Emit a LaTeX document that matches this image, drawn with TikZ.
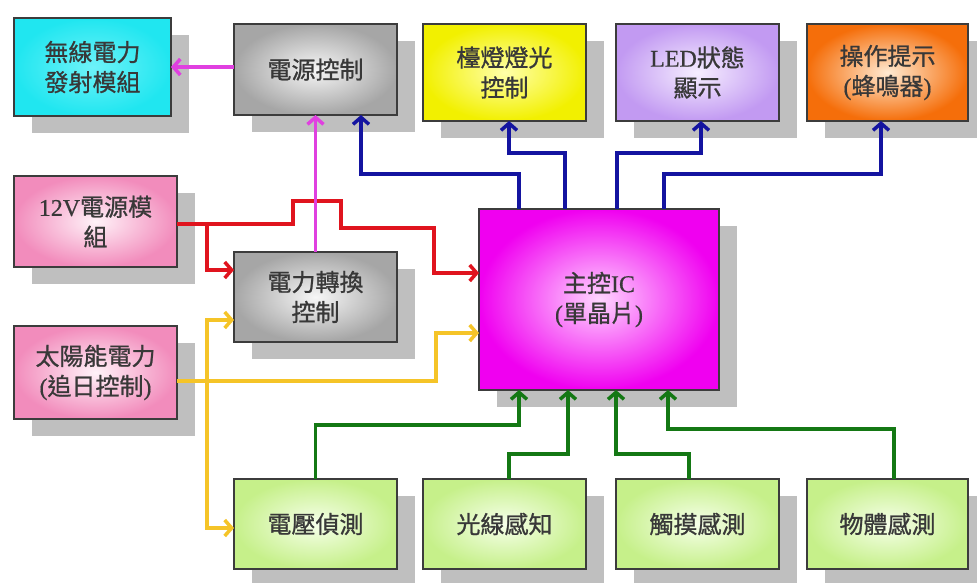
\documentclass[tikz,border=0pt]{standalone}
\usepackage{fontspec}
\setmainfont{Liberation Serif}[FakeBold=0.6]
\newfontfamily\cjk{Noto Sans CJK TC}[FakeBold=0.9]
\usetikzlibrary{arrows.meta,shadows}
\definecolor{shadowcol}{HTML}{BFBFBF}
\definecolor{boxborder}{HTML}{3C3C3C}
\definecolor{textcol}{HTML}{383838}
\definecolor{mgline}{HTML}{E040E0}
\definecolor{blline}{HTML}{1414A0}
\definecolor{rdline}{HTML}{E0141E}
\definecolor{ylline}{HTML}{F5C428}
\definecolor{gnline}{HTML}{147814}
\newcommand{\lt}{\rmfamily}
\begin{document}
\begin{tikzpicture}[x=1pt,y=-1pt,
  box/.style={draw=boxborder, line width=1.4pt, inner sep=0pt, outer sep=0pt,
    align=center, text=textcol, font=\cjk\fontsize{24}{30}\selectfont,
    drop shadow={shadow xshift=18pt,shadow yshift=-17pt,fill=shadowcol,opacity=1}},
  cyanbox/.style={inner color={rgb,255:red,110;green,242;blue,248}, outer color={rgb,255:red,32;green,230;blue,240}},
  graybox/.style={inner color={rgb,255:red,246;green,246;blue,246}, outer color={rgb,255:red,166;green,166;blue,166}},
  yellowbox/.style={inner color={rgb,255:red,255;green,255;blue,170}, outer color={rgb,255:red,242;green,240;blue,0}},
  lavbox/.style={inner color={rgb,255:red,246;green,238;blue,255}, outer color={rgb,255:red,194;green,154;blue,242}},
  orangebox/.style={inner color={rgb,255:red,255;green,234;blue,210}, outer color={rgb,255:red,245;green,110;blue,10}},
  pinkbox/.style={inner color={rgb,255:red,255;green,242;blue,248}, outer color={rgb,255:red,242;green,140;blue,188}},
  icbox/.style={inner color={rgb,255:red,255;green,214;blue,255}, outer color={rgb,255:red,240;green,0;blue,240}},
  greenbox/.style={inner color={rgb,255:red,246;green,255;blue,234}, outer color={rgb,255:red,198;green,240;blue,138}},
  conn/.style={line width=3.5pt, -{Straight Barb[length=7pt,width=16pt]}},
  mg/.style={conn, draw=mgline},
  bl/.style={conn, draw=blline},
  rd/.style={conn, draw=rdline},
  yl/.style={conn, draw=ylline},
  gn/.style={conn, draw=gnline}
]
\useasboundingbox (0,0) rectangle (977,582);
\fill[white] (0,0) rectangle (977,582);

% boxes
\node[box,cyanbox,minimum width=157pt,minimum height=98pt] (wl) at (92.5,67) {無線電力\\發射模組};
\node[box,graybox,minimum width=163pt,minimum height=91pt] (pwr) at (315.5,69.5) {電源控制};
\node[box,yellowbox,minimum width=163pt,minimum height=97pt] (lamp) at (504.5,72.5) {檯燈燈光\\控制};
\node[box,lavbox,minimum width=163pt,minimum height=97pt] (led) at (697.5,72.5) {{\lt LED}狀態\\顯示};
\node[box,orangebox,minimum width=161pt,minimum height=97pt] (buzz) at (887.5,72.5) {操作提示\\{\lt(}蜂鳴器{\lt)}};
\node[box,pinkbox,minimum width=163pt,minimum height=91pt] (v12) at (95.5,221.5) {{\lt 12V}電源模\\組};
\node[box,graybox,minimum width=163pt,minimum height=90pt] (conv) at (315.5,297) {電力轉換\\控制};
\node[box,pinkbox,minimum width=163pt,minimum height=93pt] (solar) at (95.5,372.5) {太陽能電力\\{\lt(}追日控制{\lt)}};
\node[box,icbox,minimum width=240pt,minimum height=181pt] (ic) at (599,299.5) {主控{\lt IC}\\{\lt(}單晶片{\lt)}};
\node[box,greenbox,minimum width=163pt,minimum height=90pt] (volt) at (315.5,524) {電壓偵測};
\node[box,greenbox,minimum width=163pt,minimum height=90pt] (light) at (504.5,524) {光線感知};
\node[box,greenbox,minimum width=163pt,minimum height=90pt] (touch) at (697.5,524) {觸摸感測};
\node[box,greenbox,minimum width=161pt,minimum height=90pt] (obj) at (887.5,524) {物體感測};

% red
\draw[rd] (v12.east |- 0,224) -- (293,224) -- (293,201) -- (341,201) -- (341,228) -- (434,228) -- (434,273) -- (ic.west |- 0,273);
\draw[rd] (207,224) -- (207,270) -- (conv.west |- 0,270);
% magenta
\draw[mg] (conv.north) -- (pwr.south);
\draw[mg] (pwr.west |- 0,67) -- (wl.east |- 0,67);
% blue
\draw[bl] (519,0 |- ic.north) |- (361,174) -- (361,0 |- pwr.south);
\draw[bl] (565,0 |- ic.north) |- (509,153) -- (509,0 |- lamp.south);
\draw[bl] (617,0 |- ic.north) |- (701,153) -- (701,0 |- led.south);
\draw[bl] (664,0 |- ic.north) |- (881,174) -- (881,0 |- buzz.south);
% yellow
\draw[yl] (solar.east |- 0,381) -- (436,381) -- (436,333) -- (ic.west |- 0,333);
\draw[yl] (207,381) -- (207,320) -- (conv.west |- 0,320);
\draw[yl] (207,381) -- (207,528) -- (volt.west |- 0,528);
% green
\draw[gn] (volt.north) |- (519,425) -- (519,0 |- ic.south);
\draw[gn] (509,0 |- light.north) |- (568,454) -- (568,0 |- ic.south);
\draw[gn] (689,0 |- touch.north) |- (616,454) -- (616,0 |- ic.south);
\draw[gn] (894,0 |- obj.north) |- (668,429) -- (668,0 |- ic.south);
\end{tikzpicture}
\end{document}
